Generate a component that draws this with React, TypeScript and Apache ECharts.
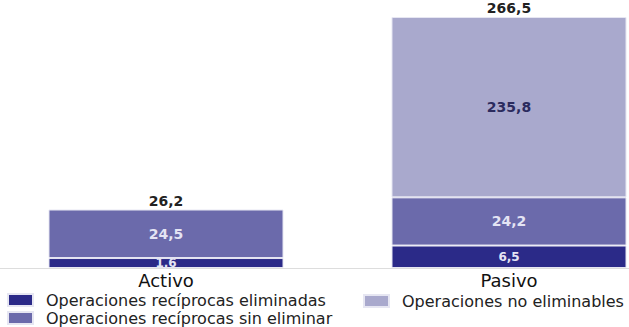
import React, { useEffect, useRef } from "react";
import * as echarts from "echarts";

const categories = ["Activo", "Pasivo"];
const seriesNames = [
  "Operaciones recíprocas eliminadas",
  "Operaciones recíprocas sin eliminar",
  "Operaciones no eliminables",
];
const eliminadas = [1.6, 6.5];
const sinEliminar = [24.5, 24.2];
const noEliminables: (number | null)[] = [null, 235.8];
const totals = [26.2, 266.5];

const colors = ["#2b2a88", "#6b6aab", "#a9a9cd"];

// The reference draws segment heights on a compressed (power) scale, not linear.
const EXP = 0.58;
const disp = (v: number | null) => (v == null ? null : Math.pow(v, EXP));
const fmt = (v: number | null) => (v == null ? "" : v.toFixed(1).replace(".", ","));

export default function App() {
  const ref = useRef<HTMLDivElement>(null);
  useEffect(() => {
    if (!ref.current) return;
    const chart = echarts.init(ref.current, undefined, { renderer: "svg" });
    const raw = [eliminadas, sinEliminar, noEliminables];
    const stackTops = categories.map((_, i) =>
      raw.reduce((s, arr) => s + (disp(arr[i]) || 0), 0)
    );
    const maxTop = Math.max(...stackTops);
    const font = "DejaVu Sans, Verdana, sans-serif";
    const innerLabelColors = ["#e4e4f4", "#e4e4f4", "#2b2b5e"];
    const innerLabelSizes = [12, 14, 14];
    const series: any[] = raw.map((arr, si) => ({
      name: seriesNames[si],
      type: "bar",
      stack: "total",
      barWidth: 235,
      clip: false,
      itemStyle: { color: colors[si], borderColor: "#e6e6f2", borderWidth: 1 },
      label: {
        show: true,
        position: "inside",
        color: innerLabelColors[si],
        fontFamily: font,
        fontWeight: "bold",
        fontSize: innerLabelSizes[si],
        formatter: (p: any) => fmt(arr[p.dataIndex]),
      },
      data: arr.map((v) => disp(v)),
    }));
    series.push({
      name: "total",
      type: "bar",
      stack: "total",
      barWidth: 235,
      clip: false,
      itemStyle: { color: "transparent" },
      label: {
        show: true,
        position: "top",
        distance: 2,
        color: "#222",
        fontFamily: font,
        fontWeight: "bold",
        fontSize: 14,
        formatter: (p: any) => fmt(totals[p.dataIndex]),
      },
      data: categories.map(() => 0),
    });
    const legendText = {
      color: "#222",
      fontFamily: font,
      fontSize: 16,
      padding: [0, 0, 0, 8],
    };
    chart.setOption({
      animation: false,
      grid: [
        { left: 166, right: 120, top: 17, bottom: 59 },
        { left: 0, right: 0, top: 17, bottom: 59 },
      ],
      xAxis: [
        {
          type: "category",
          gridIndex: 0,
          data: categories,
          boundaryGap: false,
          axisLine: { show: false },
          axisTick: { show: false },
          axisLabel: { color: "#111", fontFamily: font, fontSize: 18, margin: 3 },
          z: 1,
        },
        {
          type: "category",
          gridIndex: 1,
          data: categories,
          axisLine: { show: true, lineStyle: { color: "#dddddd", width: 1 } },
          axisTick: { show: false },
          axisLabel: { show: false },
          z: 0,
        },
      ],
      yAxis: [
        { type: "value", gridIndex: 0, show: false, min: 0, max: maxTop, splitLine: { show: false } },
        { type: "value", gridIndex: 1, show: false, min: 0, max: maxTop, splitLine: { show: false } },
      ],
      legend: [
        {
          data: [seriesNames[0], seriesNames[1]],
          orient: "vertical",
          left: 7,
          bottom: 1,
          padding: 0,
          itemWidth: 25,
          itemHeight: 12,
          itemGap: 2,
          icon: "rect",
          selectedMode: false,
          textStyle: legendText,
        },
        {
          data: [seriesNames[2]],
          orient: "vertical",
          left: 363,
          top: 293,
          padding: 0,
          itemWidth: 25,
          itemHeight: 12,
          icon: "rect",
          selectedMode: false,
          textStyle: legendText,
        },
      ],
      series,
    });
    return () => chart.dispose();
  }, []);
  return (
    <div
      ref={ref}
      style={{ position: "fixed", left: 0, top: 0, width: 629, height: 327, background: "#fff" }}
    />
  );
}
